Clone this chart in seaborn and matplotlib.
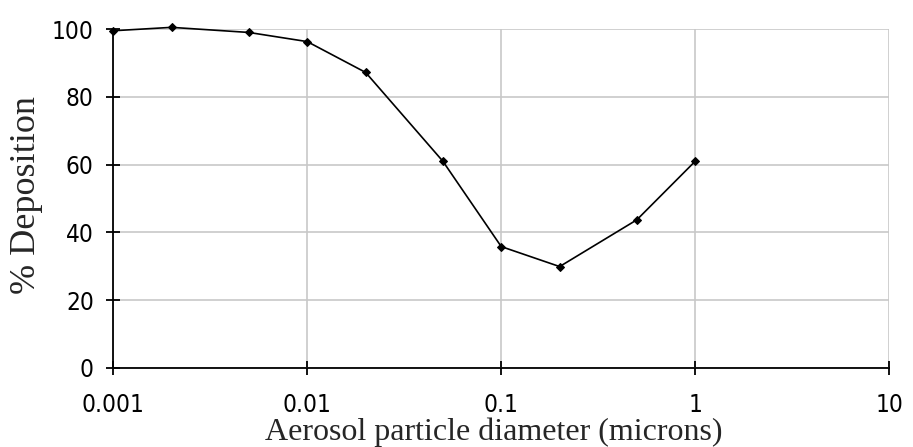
import numpy as np
import pandas as pd
import matplotlib
matplotlib.use("Agg")
import matplotlib.pyplot as plt
import seaborn as sns
from matplotlib.ticker import FixedLocator, FixedFormatter, NullLocator

# particle diameter (microns) vs % deposition
diameters = [0.001, 0.002, 0.005, 0.01, 0.02, 0.05, 0.1, 0.2, 0.5, 1.0]
deposition = [99.5, 100.5, 99.0, 96.3, 87.2, 61.0, 35.8, 29.9, 43.7, 61.0]
x_ticks = [0.001, 0.01, 0.1, 1, 10]
x_tick_labels = ["0.001", "0.01", "0.1", "1", "10"]
y_ticks = [0, 20, 40, 60, 80, 100]

df = pd.DataFrame({"diameter": diameters, "deposition": deposition})

sns.set_style("white")
plt.rcParams["font.family"] = ["DejaVu Sans"]
plt.rcParams["font.stretch"] = "condensed"

fig = plt.figure(figsize=(9.13, 4.47), dpi=100)
ax = fig.add_axes([0.124, 0.177, 0.850, 0.758])

sns.lineplot(data=df, x="diameter", y="deposition", ax=ax, color="black",
             linewidth=1.2, marker="D", markersize=4.5, markeredgecolor="black")
for ln in ax.lines:
    ln.set_clip_on(False)

ax.set_xscale("log")
ax.set_xlim(0.001, 10)
ax.set_ylim(0, 100)
ax.xaxis.set_major_locator(FixedLocator(x_ticks))
ax.xaxis.set_major_formatter(FixedFormatter(x_tick_labels))
ax.xaxis.set_minor_locator(NullLocator())
ax.set_yticks(y_ticks)

ax.grid(True, color="#c8c8c8", linewidth=1.2)
ax.set_axisbelow(True)
for s in ["top", "right"]:
    ax.spines[s].set_visible(False)
for s in ["left", "bottom"]:
    ax.spines[s].set_color("black")
    ax.spines[s].set_linewidth(1.3)
ax.tick_params(axis="both", which="major", bottom=True, left=True,
               direction="inout", length=10, width=1.3, colors="black", labelsize=17.5)
ax.tick_params(axis="x", pad=13)
ax.tick_params(axis="y", pad=9)

serif = ["Liberation Serif", "DejaVu Serif"]
ax.set_xlabel("Aerosol particle diameter (microns)", fontsize=23, family=serif,
              fontstretch="normal")
ax.xaxis.set_label_coords(0.49, -0.145)
ax.set_ylabel("% Deposition", fontsize=26, family=serif, fontstretch="normal")
ax.yaxis.set_label_coords(-0.090, 0.51)

fig.savefig("out.png", dpi=100)
